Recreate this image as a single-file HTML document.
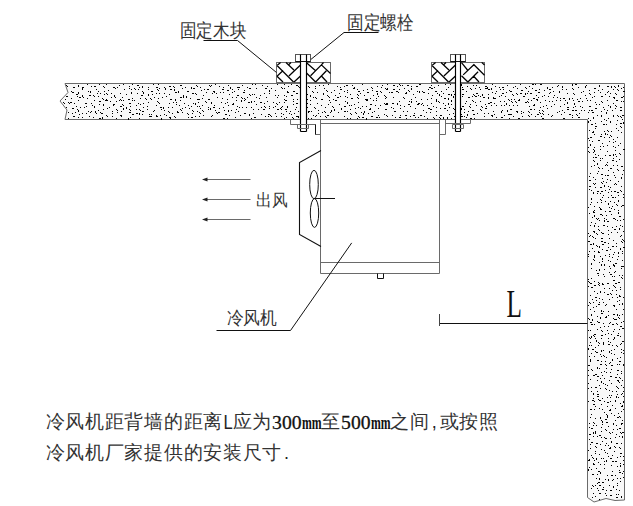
<!DOCTYPE html>
<html><head><meta charset="utf-8"><style>
html,body{margin:0;padding:0;background:#fff;font-family:"Liberation Sans",sans-serif;width:633px;height:506px;overflow:hidden}
svg{position:absolute;left:0;top:0;display:block}
</style></head><body>
<svg width="633" height="506" viewBox="0 0 633 506" shape-rendering="auto">
<path d="M65 83.5 L624.5 83.5 L624.5 500 L615 500.5 L606 498.5 L594 502 L587.5 497.5 L587.5 119.5 L65 119.5 L67 110 L60 101 L68 92.5Z" fill="#f8f8f8" stroke="#6a6a6a" stroke-width="1"/>
<path d="M87 84h1v1h-1zM99 84h1v1h-1zM106 84h1v1h-1zM123 84h1v1h-1zM132 84h1v1h-1zM153 84h1v1h-1zM158 84h1v1h-1zM215 84h1v1h-1zM252 84h1v1h-1zM255 84h1v1h-1zM277 84h1v1h-1zM284 84h1v1h-1zM291 84h1v1h-1zM328 84h1v1h-1zM362 84h1v1h-1zM387 84h1v1h-1zM399 84h1v1h-1zM400 85h1v1h-1zM419 84h2v1h-2zM445 84h1v1h-1zM450 84h1v1h-1zM461 84h1v2h-1zM492 84h1v1h-1zM520 84h1v1h-1zM532 84h2v1h-2zM535 84h1v1h-1zM540 84h2v1h-2zM572 84h1v2h-1zM575 84h2v1h-2zM66 85h1v1h-1zM67 86h1v1h-1zM78 85h1v2h-1zM119 85h1v1h-1zM137 85h2v1h-2zM180 85h2v1h-2zM196 85h1v1h-1zM197 86h1v1h-1zM209 85h1v1h-1zM210 86h1v1h-1zM211 85h1v1h-1zM228 85h1v1h-1zM242 85h1v1h-1zM262 85h1v1h-1zM296 85h2v1h-2zM319 85h1v1h-1zM323 85h1v1h-1zM346 85h2v1h-2zM352 85h1v1h-1zM382 85h1v1h-1zM393 85h2v1h-2zM402 85h1v1h-1zM407 85h2v1h-2zM431 85h1v1h-1zM438 85h1v1h-1zM473 85h1v1h-1zM476 85h1v1h-1zM507 85h1v1h-1zM558 85h1v1h-1zM586 85h1v1h-1zM599 85h1v2h-1zM618 85h1v2h-1zM91 86h1v1h-1zM94 86h2v1h-2zM103 86h1v1h-1zM104 87h1v1h-1zM129 86h1v1h-1zM142 86h1v2h-1zM169 86h2v1h-2zM173 86h1v1h-1zM219 86h1v1h-1zM267 86h1v1h-1zM288 86h1v1h-1zM298 86h1v1h-1zM299 87h1v1h-1zM308 86h1v1h-1zM309 87h1v1h-1zM315 86h1v1h-1zM337 86h1v1h-1zM344 86h1v1h-1zM377 86h1v1h-1zM397 86h1v1h-1zM411 86h1v1h-1zM416 86h2v1h-2zM467 86h1v1h-1zM485 86h2v1h-2zM495 86h1v1h-1zM515 86h1v1h-1zM529 86h1v1h-1zM557 86h1v1h-1zM562 86h1v2h-1zM585 86h1v2h-1zM607 86h2v1h-2zM611 86h1v2h-1zM614 86h1v1h-1zM615 87h1v1h-1zM73 87h1v1h-1zM74 87h1v1h-1zM82 87h2v1h-2zM113 87h2v1h-2zM117 87h1v1h-1zM139 87h1v1h-1zM148 87h1v1h-1zM156 87h2v1h-2zM164 87h1v1h-1zM165 88h1v1h-1zM174 87h1v1h-1zM185 87h1v1h-1zM191 87h1v2h-1zM200 87h1v1h-1zM223 87h1v1h-1zM230 87h1v2h-1zM237 87h1v1h-1zM238 87h2v1h-2zM247 87h1v1h-1zM281 87h1v1h-1zM282 88h1v1h-1zM340 87h1v1h-1zM354 87h1v1h-1zM371 87h1v1h-1zM372 88h1v1h-1zM381 87h1v1h-1zM429 87h2v1h-2zM434 87h1v1h-1zM448 87h1v1h-1zM462 87h1v1h-1zM479 87h1v1h-1zM487 87h1v2h-1zM499 87h1v1h-1zM502 87h2v1h-2zM513 87h1v1h-1zM525 87h1v1h-1zM526 88h1v1h-1zM547 87h1v2h-1zM552 87h1v1h-1zM578 87h1v1h-1zM623 87h1v1h-1zM82 88h1v2h-1zM115 88h1v1h-1zM129 88h1v1h-1zM134 88h1v1h-1zM135 89h1v1h-1zM159 88h1v1h-1zM182 88h1v1h-1zM193 88h1v1h-1zM194 88h1v1h-1zM249 88h2v1h-2zM256 88h1v1h-1zM265 88h2v1h-2zM271 88h1v1h-1zM284 88h1v1h-1zM315 88h1v1h-1zM324 88h1v1h-1zM353 88h2v1h-2zM385 88h1v1h-1zM386 89h1v1h-1zM387 88h1v2h-1zM404 88h1v1h-1zM411 88h1v2h-1zM431 88h2v1h-2zM470 88h1v1h-1zM471 89h1v1h-1zM475 88h1v1h-1zM485 88h2v1h-2zM491 88h1v2h-1zM517 88h1v1h-1zM532 88h1v1h-1zM572 88h1v1h-1zM573 89h1v1h-1zM594 88h2v1h-2zM621 88h1v1h-1zM96 89h1v1h-1zM124 89h1v1h-1zM131 89h1v1h-1zM138 89h1v1h-1zM148 89h1v1h-1zM157 89h1v1h-1zM158 90h1v1h-1zM165 89h1v1h-1zM170 89h2v1h-2zM174 89h1v2h-1zM204 89h1v1h-1zM207 89h2v1h-2zM222 89h2v1h-2zM232 89h1v1h-1zM238 89h1v1h-1zM340 89h2v1h-2zM357 89h1v1h-1zM367 89h1v1h-1zM393 89h2v1h-2zM399 89h1v1h-1zM428 89h1v1h-1zM446 89h1v1h-1zM462 89h2v1h-2zM480 89h1v1h-1zM488 89h2v1h-2zM500 89h1v1h-1zM503 89h1v1h-1zM539 89h1v1h-1zM549 89h2v1h-2zM562 89h1v1h-1zM566 89h1v1h-1zM602 89h1v1h-1zM613 89h1v1h-1zM617 89h1v1h-1zM618 90h1v1h-1zM108 90h1v1h-1zM201 90h1v1h-1zM227 90h2v1h-2zM244 90h1v1h-1zM269 90h1v2h-1zM275 90h1v1h-1zM306 90h1v1h-1zM326 90h1v1h-1zM327 91h1v1h-1zM334 90h1v1h-1zM347 90h1v1h-1zM363 90h1v1h-1zM372 90h1v1h-1zM408 90h1v1h-1zM409 91h1v1h-1zM509 90h1v1h-1zM510 91h1v1h-1zM521 90h1v1h-1zM522 90h1v1h-1zM535 90h2v1h-2zM544 90h1v1h-1zM589 90h1v1h-1zM598 90h1v1h-1zM71 91h1v1h-1zM88 91h1v1h-1zM90 91h1v2h-1zM98 91h1v1h-1zM104 91h1v1h-1zM142 91h1v1h-1zM151 91h2v1h-2zM178 91h1v1h-1zM187 91h2v1h-2zM213 91h2v1h-2zM214 91h1v2h-1zM234 91h1v1h-1zM287 91h1v1h-1zM293 91h1v1h-1zM294 91h1v1h-1zM312 91h1v1h-1zM313 92h1v1h-1zM344 91h1v1h-1zM358 91h2v1h-2zM376 91h2v1h-2zM380 91h1v1h-1zM396 91h2v1h-2zM417 91h1v1h-1zM419 91h1v2h-1zM422 91h1v1h-1zM435 91h2v1h-2zM441 91h1v1h-1zM453 91h1v1h-1zM466 91h1v1h-1zM496 91h1v1h-1zM511 91h1v1h-1zM528 91h1v1h-1zM553 91h1v1h-1zM559 91h1v1h-1zM583 91h1v1h-1zM608 91h1v1h-1zM623 91h2v1h-2zM72 92h2v1h-2zM78 92h1v2h-1zM131 92h1v2h-1zM143 92h1v2h-1zM175 92h2v1h-2zM178 92h1v1h-1zM206 92h1v1h-1zM220 92h1v1h-1zM223 92h1v1h-1zM232 92h1v1h-1zM243 92h2v1h-2zM287 92h2v1h-2zM317 92h1v1h-1zM331 92h1v1h-1zM347 92h1v1h-1zM367 92h2v1h-2zM381 92h1v1h-1zM389 92h1v1h-1zM391 92h2v1h-2zM398 92h1v1h-1zM406 92h1v1h-1zM423 92h2v1h-2zM492 92h1v1h-1zM506 92h1v1h-1zM538 92h2v1h-2zM550 92h1v1h-1zM559 92h1v1h-1zM581 92h1v1h-1zM594 92h1v1h-1zM600 92h1v1h-1zM607 92h1v1h-1zM97 93h1v1h-1zM100 93h1v1h-1zM106 93h1v1h-1zM107 94h1v1h-1zM111 93h1v1h-1zM120 93h1v1h-1zM137 93h1v1h-1zM156 93h1v1h-1zM159 93h1v1h-1zM164 93h1v1h-1zM192 93h2v1h-2zM195 93h1v1h-1zM196 94h1v1h-1zM212 93h1v1h-1zM216 93h1v1h-1zM264 93h1v1h-1zM269 93h1v1h-1zM296 93h2v1h-2zM300 93h2v1h-2zM323 93h1v2h-1zM339 93h1v1h-1zM360 93h1v1h-1zM377 93h1v2h-1zM405 93h2v1h-2zM428 93h1v1h-1zM437 93h1v1h-1zM443 93h1v1h-1zM476 93h2v1h-2zM495 93h1v1h-1zM502 93h2v1h-2zM516 93h1v1h-1zM517 94h1v1h-1zM520 93h2v1h-2zM525 93h1v2h-1zM527 93h1v1h-1zM530 93h2v1h-2zM549 93h1v1h-1zM567 93h1v1h-1zM573 93h1v1h-1zM589 93h1v1h-1zM610 93h1v1h-1zM615 93h1v1h-1zM616 94h1v1h-1zM76 94h2v1h-2zM104 94h1v1h-1zM126 94h1v1h-1zM148 94h1v2h-1zM152 94h1v1h-1zM169 94h1v1h-1zM229 94h1v1h-1zM249 94h1v1h-1zM250 95h1v1h-1zM252 94h1v1h-1zM254 94h1v1h-1zM307 94h1v1h-1zM350 94h1v1h-1zM357 94h1v1h-1zM358 95h1v1h-1zM413 94h1v1h-1zM439 94h1v2h-1zM448 94h2v1h-2zM451 94h1v2h-1zM454 94h1v1h-1zM462 94h2v1h-2zM473 94h1v1h-1zM474 95h1v1h-1zM482 94h1v2h-1zM488 94h1v1h-1zM512 94h1v1h-1zM513 95h1v1h-1zM574 94h1v1h-1zM590 94h1v1h-1zM605 94h1v1h-1zM82 95h1v1h-1zM89 95h2v1h-2zM93 95h1v1h-1zM114 95h1v1h-1zM141 95h2v1h-2zM183 95h1v2h-1zM203 95h1v1h-1zM237 95h2v1h-2zM238 95h1v1h-1zM260 95h1v1h-1zM275 95h1v1h-1zM278 95h1v1h-1zM284 95h1v1h-1zM291 95h2v1h-2zM310 95h1v2h-1zM327 95h1v1h-1zM328 96h1v1h-1zM335 95h1v1h-1zM364 95h1v1h-1zM373 95h1v1h-1zM384 95h1v1h-1zM385 96h1v1h-1zM432 95h1v1h-1zM478 95h1v1h-1zM501 95h1v1h-1zM536 95h1v1h-1zM544 95h1v1h-1zM554 95h1v1h-1zM585 95h1v1h-1zM66 96h2v1h-2zM77 96h1v1h-1zM82 96h1v1h-1zM83 97h1v1h-1zM94 96h1v1h-1zM98 96h1v1h-1zM114 96h1v1h-1zM115 97h1v1h-1zM166 96h1v1h-1zM186 96h1v2h-1zM286 96h1v1h-1zM340 96h1v1h-1zM345 96h1v1h-1zM378 96h1v1h-1zM441 96h1v1h-1zM453 96h1v2h-1zM462 96h1v1h-1zM472 96h1v1h-1zM475 96h2v1h-2zM480 96h1v1h-1zM499 96h1v1h-1zM505 96h1v1h-1zM523 96h2v1h-2zM542 96h1v1h-1zM548 96h1v1h-1zM594 96h1v1h-1zM601 96h1v1h-1zM602 96h1v1h-1zM609 96h1v1h-1zM623 96h1v1h-1zM79 97h2v1h-2zM111 97h1v1h-1zM122 97h1v1h-1zM154 97h1v1h-1zM162 97h1v1h-1zM180 97h2v1h-2zM183 97h1v1h-1zM217 97h1v1h-1zM232 97h1v1h-1zM236 97h1v1h-1zM241 97h1v1h-1zM242 98h1v1h-1zM247 97h1v1h-1zM256 97h1v1h-1zM266 97h1v1h-1zM277 97h1v1h-1zM313 97h1v1h-1zM315 97h1v1h-1zM316 98h1v1h-1zM329 97h1v1h-1zM337 97h2v1h-2zM347 97h1v1h-1zM357 97h1v1h-1zM386 97h1v1h-1zM393 97h1v1h-1zM403 97h1v1h-1zM404 98h1v1h-1zM415 97h1v1h-1zM468 97h2v1h-2zM483 97h2v1h-2zM488 97h1v2h-1zM493 97h1v2h-1zM538 97h1v1h-1zM553 97h1v1h-1zM557 97h1v1h-1zM592 97h1v1h-1zM613 97h1v1h-1zM614 97h1v2h-1zM621 97h2v1h-2zM71 98h1v1h-1zM87 98h1v1h-1zM102 98h1v1h-1zM103 99h1v1h-1zM132 98h1v1h-1zM140 98h1v1h-1zM145 98h1v1h-1zM150 98h1v1h-1zM151 99h1v1h-1zM158 98h1v1h-1zM190 98h1v1h-1zM202 98h1v1h-1zM222 98h1v1h-1zM244 98h1v1h-1zM245 99h1v1h-1zM259 98h1v1h-1zM351 98h2v1h-2zM358 98h1v1h-1zM370 98h1v1h-1zM376 98h1v1h-1zM385 98h1v1h-1zM431 98h1v1h-1zM444 98h2v1h-2zM448 98h1v2h-1zM494 98h2v1h-2zM533 98h2v1h-2zM560 98h1v1h-1zM563 98h2v1h-2zM569 98h1v2h-1zM572 98h1v1h-1zM580 98h1v1h-1zM586 98h1v1h-1zM65 99h1v1h-1zM106 99h1v1h-1zM120 99h1v1h-1zM121 100h1v1h-1zM128 99h2v1h-2zM146 99h1v1h-1zM170 99h2v1h-2zM175 99h1v2h-1zM197 99h1v1h-1zM198 99h2v1h-2zM208 99h2v1h-2zM227 99h1v1h-1zM284 99h1v1h-1zM285 100h1v1h-1zM293 99h1v1h-1zM297 99h1v1h-1zM300 99h2v1h-2zM307 99h1v1h-1zM321 99h1v1h-1zM322 99h1v1h-1zM333 99h1v1h-1zM365 99h2v1h-2zM367 99h1v1h-1zM411 99h1v1h-1zM421 99h1v1h-1zM427 99h1v1h-1zM436 99h1v2h-1zM508 99h1v1h-1zM509 100h1v1h-1zM511 99h1v1h-1zM514 99h1v1h-1zM519 99h1v1h-1zM528 99h1v1h-1zM536 99h2v1h-2zM577 99h1v1h-1zM78 100h1v1h-1zM94 100h1v1h-1zM105 100h1v1h-1zM106 100h2v1h-2zM119 100h1v1h-1zM123 100h1v1h-1zM132 100h1v1h-1zM134 100h1v1h-1zM180 100h1v1h-1zM236 100h1v1h-1zM241 100h1v2h-1zM244 100h1v1h-1zM286 100h1v1h-1zM310 100h1v1h-1zM329 100h1v1h-1zM335 100h2v1h-2zM366 100h2v1h-2zM373 100h1v1h-1zM376 100h1v1h-1zM451 100h1v2h-1zM472 100h1v1h-1zM473 101h1v1h-1zM518 100h2v1h-2zM531 100h1v1h-1zM537 100h1v1h-1zM545 100h1v1h-1zM556 100h1v1h-1zM560 100h1v1h-1zM565 100h1v1h-1zM573 100h1v1h-1zM587 100h1v1h-1zM590 100h1v1h-1zM607 100h1v1h-1zM616 100h2v1h-2zM99 101h2v1h-2zM110 101h1v1h-1zM116 101h1v1h-1zM157 101h1v1h-1zM205 101h1v1h-1zM251 101h1v2h-1zM254 101h1v1h-1zM267 101h1v1h-1zM293 101h1v1h-1zM345 101h1v1h-1zM399 101h1v1h-1zM409 101h1v1h-1zM411 101h1v2h-1zM416 101h1v1h-1zM436 101h1v1h-1zM438 101h1v1h-1zM439 102h1v1h-1zM466 101h1v1h-1zM480 101h1v1h-1zM500 101h1v1h-1zM504 101h1v1h-1zM511 101h1v1h-1zM512 102h1v1h-1zM515 101h1v1h-1zM516 102h1v1h-1zM527 101h1v1h-1zM528 102h1v1h-1zM549 101h1v1h-1zM552 101h1v1h-1zM578 101h2v1h-2zM582 101h1v1h-1zM601 101h1v1h-1zM621 101h1v1h-1zM623 101h1v1h-1zM63 102h1v1h-1zM64 103h1v1h-1zM68 102h1v1h-1zM69 103h1v1h-1zM70 102h2v1h-2zM148 102h1v1h-1zM158 102h1v1h-1zM159 103h1v1h-1zM173 102h1v1h-1zM176 102h1v1h-1zM198 102h1v1h-1zM206 102h1v1h-1zM211 102h1v2h-1zM221 102h1v1h-1zM227 102h1v1h-1zM248 102h2v1h-2zM260 102h2v1h-2zM273 102h1v1h-1zM279 102h1v1h-1zM284 102h1v1h-1zM330 102h1v1h-1zM347 102h1v2h-1zM358 102h1v1h-1zM475 102h1v1h-1zM490 102h2v1h-2zM525 102h2v1h-2zM540 102h1v1h-1zM567 102h1v2h-1zM595 102h1v1h-1zM602 102h1v1h-1zM74 103h1v1h-1zM85 103h1v1h-1zM86 103h1v1h-1zM91 103h1v1h-1zM129 103h2v1h-2zM138 103h1v1h-1zM143 103h1v1h-1zM169 103h1v1h-1zM184 103h1v1h-1zM193 103h1v1h-1zM195 103h1v2h-1zM225 103h1v1h-1zM233 103h1v2h-1zM264 103h1v1h-1zM276 103h1v1h-1zM277 104h1v1h-1zM296 103h2v1h-2zM307 103h1v1h-1zM317 103h1v1h-1zM384 103h1v1h-1zM386 103h2v1h-2zM392 103h2v1h-2zM397 103h1v1h-1zM418 103h2v1h-2zM422 103h1v1h-1zM431 103h1v1h-1zM443 103h1v1h-1zM448 103h1v2h-1zM465 103h1v1h-1zM488 103h2v1h-2zM494 103h1v1h-1zM506 103h1v2h-1zM574 103h1v2h-1zM613 103h1v1h-1zM99 104h1v1h-1zM103 104h1v2h-1zM113 104h1v2h-1zM114 104h1v1h-1zM122 104h1v1h-1zM123 105h1v1h-1zM140 104h1v1h-1zM176 104h1v1h-1zM232 104h1v1h-1zM256 104h1v1h-1zM293 104h1v1h-1zM310 104h1v1h-1zM328 104h1v1h-1zM339 104h1v1h-1zM354 104h1v1h-1zM370 104h2v1h-2zM385 104h1v1h-1zM386 104h2v1h-2zM397 104h1v1h-1zM408 104h2v1h-2zM417 104h2v1h-2zM421 104h1v1h-1zM451 104h1v1h-1zM470 104h1v1h-1zM485 104h1v1h-1zM534 104h1v1h-1zM554 104h1v1h-1zM564 104h1v1h-1zM596 104h1v1h-1zM599 104h1v1h-1zM92 105h1v1h-1zM136 105h1v1h-1zM156 105h1v1h-1zM179 105h1v1h-1zM188 105h1v1h-1zM202 105h1v1h-1zM214 105h1v1h-1zM228 105h1v1h-1zM321 105h1v1h-1zM349 105h1v1h-1zM351 105h1v1h-1zM375 105h1v1h-1zM380 105h1v1h-1zM400 105h1v1h-1zM423 105h1v1h-1zM427 105h1v1h-1zM445 105h1v1h-1zM476 105h1v1h-1zM491 105h1v1h-1zM496 105h1v1h-1zM501 105h1v1h-1zM504 105h1v1h-1zM509 105h1v1h-1zM513 105h1v1h-1zM517 105h1v1h-1zM533 105h2v1h-2zM546 105h1v1h-1zM608 105h1v1h-1zM615 105h1v1h-1zM616 106h1v1h-1zM76 106h1v1h-1zM86 106h1v1h-1zM94 106h1v2h-1zM120 106h2v1h-2zM130 106h1v1h-1zM147 106h1v1h-1zM191 106h1v1h-1zM197 106h1v1h-1zM199 106h1v1h-1zM237 106h1v1h-1zM264 106h1v1h-1zM265 107h1v1h-1zM269 106h1v1h-1zM275 106h1v1h-1zM282 106h1v1h-1zM287 106h1v2h-1zM306 106h1v1h-1zM307 107h1v1h-1zM332 106h1v1h-1zM333 107h1v1h-1zM344 106h2v1h-2zM362 106h1v1h-1zM366 106h1v1h-1zM404 106h1v1h-1zM410 106h1v1h-1zM433 106h1v1h-1zM462 106h2v1h-2zM469 106h1v1h-1zM470 107h1v1h-1zM481 106h1v1h-1zM482 107h1v1h-1zM486 106h1v1h-1zM529 106h1v1h-1zM543 106h1v1h-1zM551 106h1v1h-1zM560 106h1v1h-1zM575 106h1v1h-1zM580 106h1v1h-1zM589 106h2v1h-2zM610 106h1v2h-1zM66 107h1v1h-1zM80 107h1v1h-1zM84 107h1v1h-1zM109 107h1v1h-1zM126 107h1v2h-1zM143 107h1v1h-1zM160 107h2v1h-2zM163 107h1v2h-1zM168 107h1v1h-1zM172 107h1v1h-1zM185 107h1v1h-1zM208 107h1v1h-1zM213 107h2v1h-2zM223 107h1v1h-1zM239 107h1v1h-1zM242 107h1v1h-1zM246 107h1v1h-1zM251 107h1v1h-1zM261 107h1v1h-1zM273 107h1v1h-1zM281 107h1v1h-1zM296 107h1v1h-1zM300 107h1v1h-1zM314 107h1v1h-1zM315 108h1v1h-1zM325 107h1v1h-1zM358 107h1v1h-1zM391 107h1v1h-1zM436 107h1v1h-1zM449 107h1v1h-1zM540 107h1v1h-1zM567 107h2v1h-2zM573 107h1v1h-1zM582 107h1v1h-1zM603 107h1v1h-1zM620 107h2v1h-2zM72 108h2v1h-2zM107 108h1v1h-1zM123 108h1v2h-1zM182 108h1v1h-1zM189 108h1v1h-1zM200 108h1v1h-1zM210 108h1v2h-1zM219 108h1v1h-1zM269 108h1v1h-1zM280 108h1v1h-1zM281 109h1v1h-1zM341 108h1v2h-1zM355 108h1v1h-1zM360 108h1v1h-1zM370 108h1v1h-1zM378 108h1v1h-1zM393 108h1v1h-1zM400 108h1v1h-1zM415 108h1v1h-1zM428 108h2v1h-2zM440 108h1v1h-1zM444 108h2v1h-2zM453 108h1v1h-1zM454 109h1v1h-1zM461 108h1v2h-1zM485 108h1v1h-1zM486 108h1v1h-1zM547 108h1v1h-1zM595 108h2v1h-2zM615 108h1v1h-1zM77 109h1v1h-1zM103 109h1v1h-1zM116 109h1v1h-1zM117 110h1v1h-1zM129 109h1v1h-1zM130 110h1v1h-1zM136 109h1v1h-1zM139 109h1v1h-1zM140 110h1v1h-1zM147 109h1v1h-1zM161 109h1v1h-1zM180 109h1v1h-1zM181 110h1v1h-1zM208 109h1v1h-1zM236 109h1v1h-1zM253 109h1v1h-1zM258 109h1v1h-1zM263 109h2v1h-2zM277 109h2v1h-2zM285 109h2v1h-2zM295 109h1v1h-1zM334 109h1v2h-1zM350 109h1v1h-1zM369 109h2v1h-2zM385 109h2v1h-2zM430 109h2v1h-2zM464 109h1v1h-1zM480 109h1v1h-1zM481 110h1v1h-1zM510 109h2v1h-2zM530 109h2v1h-2zM534 109h1v1h-1zM567 109h2v1h-2zM604 109h1v1h-1zM78 110h1v2h-1zM98 110h1v1h-1zM154 110h1v1h-1zM164 110h1v1h-1zM192 110h1v1h-1zM193 111h1v1h-1zM202 110h1v1h-1zM203 111h1v1h-1zM215 110h1v1h-1zM224 110h1v1h-1zM228 110h1v2h-1zM231 110h1v1h-1zM318 110h1v1h-1zM331 110h1v2h-1zM423 110h1v1h-1zM447 110h1v1h-1zM472 110h2v1h-2zM502 110h1v1h-1zM507 110h1v2h-1zM539 110h1v1h-1zM542 110h1v1h-1zM543 111h1v1h-1zM562 110h1v1h-1zM572 110h2v1h-2zM575 110h2v1h-2zM581 110h1v1h-1zM584 110h1v1h-1zM589 110h1v1h-1zM591 110h2v1h-2zM607 110h1v1h-1zM612 110h1v1h-1zM620 110h2v1h-2zM88 111h1v1h-1zM91 111h1v1h-1zM95 111h1v2h-1zM112 111h1v1h-1zM121 111h1v1h-1zM142 111h2v1h-2zM153 111h1v1h-1zM168 111h1v1h-1zM169 112h1v1h-1zM177 111h1v2h-1zM197 111h1v1h-1zM238 111h1v1h-1zM286 111h1v1h-1zM290 111h1v1h-1zM298 111h1v1h-1zM308 111h2v1h-2zM311 111h1v1h-1zM324 111h1v1h-1zM325 112h1v1h-1zM344 111h2v1h-2zM347 111h1v1h-1zM364 111h1v2h-1zM374 111h1v1h-1zM394 111h2v1h-2zM403 111h1v1h-1zM407 111h1v1h-1zM436 111h1v1h-1zM468 111h1v1h-1zM493 111h1v1h-1zM501 111h1v1h-1zM516 111h2v1h-2zM521 111h1v1h-1zM528 111h1v1h-1zM529 112h1v1h-1zM559 111h1v1h-1zM601 111h1v1h-1zM68 112h1v1h-1zM75 112h1v1h-1zM90 112h1v1h-1zM100 112h1v1h-1zM101 113h1v1h-1zM117 112h1v1h-1zM129 112h2v1h-2zM178 112h1v1h-1zM182 112h1v1h-1zM199 112h1v1h-1zM200 113h1v1h-1zM216 112h1v1h-1zM217 113h1v1h-1zM218 112h2v1h-2zM235 112h1v1h-1zM308 112h1v1h-1zM322 112h1v1h-1zM330 112h1v1h-1zM338 112h1v1h-1zM355 112h1v1h-1zM356 113h1v1h-1zM361 112h1v1h-1zM372 112h1v1h-1zM426 112h1v1h-1zM430 112h1v1h-1zM464 112h1v1h-1zM501 112h1v1h-1zM517 112h1v1h-1zM523 112h1v1h-1zM539 112h1v1h-1zM540 113h1v1h-1zM557 112h1v1h-1zM564 112h1v1h-1zM588 112h1v1h-1zM592 112h2v1h-2zM606 112h1v2h-1zM72 113h1v1h-1zM82 113h1v1h-1zM86 113h1v1h-1zM96 113h1v1h-1zM102 113h1v1h-1zM112 113h1v1h-1zM136 113h2v1h-2zM139 113h1v2h-1zM172 113h1v1h-1zM187 113h1v1h-1zM188 114h1v1h-1zM192 113h1v1h-1zM244 113h2v1h-2zM253 113h1v1h-1zM275 113h1v1h-1zM281 113h1v1h-1zM289 113h1v1h-1zM294 113h1v1h-1zM318 113h1v1h-1zM350 113h1v1h-1zM351 114h1v1h-1zM363 113h1v2h-1zM368 113h1v1h-1zM414 113h1v1h-1zM453 113h1v1h-1zM477 113h1v1h-1zM484 113h1v1h-1zM488 113h1v1h-1zM521 113h1v1h-1zM542 113h1v1h-1zM543 114h1v1h-1zM579 113h1v1h-1zM79 114h1v1h-1zM132 114h2v1h-2zM142 114h1v1h-1zM149 114h1v1h-1zM151 114h1v1h-1zM164 114h1v1h-1zM225 114h2v1h-2zM249 114h1v2h-1zM261 114h1v1h-1zM268 114h2v1h-2zM283 114h1v1h-1zM291 114h1v1h-1zM384 114h1v1h-1zM449 114h1v1h-1zM461 114h1v1h-1zM467 114h1v2h-1zM473 114h2v1h-2zM494 114h1v1h-1zM508 114h2v1h-2zM510 114h2v1h-2zM531 114h1v1h-1zM537 114h2v1h-2zM548 114h1v1h-1zM561 114h1v1h-1zM569 114h2v1h-2zM576 114h1v1h-1zM577 115h1v1h-1zM106 115h1v1h-1zM107 116h1v1h-1zM120 115h2v1h-2zM156 115h1v1h-1zM160 115h1v1h-1zM166 115h1v1h-1zM203 115h1v1h-1zM212 115h1v1h-1zM229 115h1v1h-1zM240 115h1v1h-1zM270 115h1v1h-1zM313 115h1v1h-1zM316 115h1v1h-1zM327 115h2v1h-2zM378 115h1v1h-1zM386 115h1v1h-1zM392 115h1v1h-1zM400 115h1v1h-1zM405 115h2v1h-2zM413 115h2v1h-2zM420 115h2v1h-2zM436 115h1v1h-1zM440 115h2v1h-2zM491 115h2v1h-2zM504 115h1v1h-1zM528 115h1v1h-1zM529 116h1v1h-1zM552 115h1v1h-1zM572 115h1v1h-1zM597 115h1v1h-1zM601 115h1v1h-1zM613 115h1v1h-1zM617 115h1v1h-1zM618 116h1v1h-1zM622 115h2v1h-2zM73 116h1v1h-1zM74 116h1v1h-1zM89 116h1v1h-1zM112 116h1v1h-1zM121 116h1v1h-1zM149 116h1v1h-1zM150 116h2v1h-2zM156 116h2v1h-2zM174 116h1v1h-1zM175 117h1v1h-1zM195 116h1v1h-1zM199 116h1v1h-1zM211 116h1v1h-1zM265 116h1v1h-1zM268 116h1v1h-1zM271 116h1v1h-1zM276 116h1v1h-1zM281 116h1v1h-1zM296 116h2v1h-2zM298 116h1v2h-1zM315 116h1v1h-1zM320 116h1v1h-1zM325 116h1v1h-1zM333 116h1v1h-1zM344 116h1v1h-1zM358 116h1v1h-1zM359 117h1v1h-1zM371 116h2v1h-2zM387 116h1v1h-1zM410 116h1v1h-1zM424 116h1v1h-1zM454 116h2v1h-2zM461 116h2v1h-2zM464 116h1v1h-1zM484 116h1v1h-1zM492 116h1v1h-1zM513 116h1v1h-1zM522 116h1v1h-1zM535 116h1v1h-1zM541 116h1v1h-1zM551 116h1v1h-1zM601 116h1v1h-1zM613 116h1v1h-1zM620 116h1v1h-1zM621 117h1v1h-1zM78 117h1v1h-1zM82 117h1v1h-1zM93 117h1v1h-1zM102 117h1v2h-1zM130 117h1v1h-1zM169 117h1v1h-1zM170 118h1v1h-1zM170 117h1v1h-1zM188 117h1v1h-1zM191 117h2v1h-2zM235 117h1v1h-1zM254 117h2v1h-2zM286 117h1v1h-1zM292 117h1v1h-1zM293 118h1v1h-1zM326 117h1v1h-1zM362 117h2v1h-2zM376 117h2v1h-2zM379 117h1v1h-1zM395 117h1v1h-1zM399 117h2v1h-2zM415 117h1v1h-1zM418 117h1v1h-1zM433 117h1v1h-1zM434 118h1v1h-1zM439 117h1v1h-1zM440 118h1v1h-1zM443 117h1v2h-1zM447 117h1v2h-1zM466 117h1v1h-1zM496 117h1v1h-1zM501 117h2v1h-2zM572 117h1v1h-1zM578 117h2v1h-2zM593 117h1v2h-1zM68 118h1v1h-1zM99 118h2v1h-2zM116 118h1v1h-1zM128 118h1v2h-1zM139 118h1v1h-1zM161 118h1v2h-1zM223 118h2v1h-2zM227 118h1v1h-1zM251 118h1v1h-1zM284 118h1v1h-1zM308 118h1v1h-1zM311 118h1v1h-1zM347 118h1v1h-1zM350 118h1v1h-1zM357 118h1v1h-1zM366 118h1v2h-1zM406 118h1v1h-1zM427 118h1v1h-1zM451 118h1v1h-1zM470 118h2v1h-2zM474 118h1v1h-1zM509 118h1v1h-1zM518 118h2v1h-2zM542 118h2v1h-2zM563 118h2v1h-2zM588 118h1v1h-1zM608 118h1v1h-1zM604 119h1v1h-1zM622 119h1v1h-1zM590 120h1v1h-1zM606 120h1v1h-1zM617 120h1v1h-1zM588 121h1v2h-1zM601 121h1v1h-1zM610 121h1v2h-1zM623 122h1v2h-1zM595 123h1v1h-1zM620 123h2v1h-2zM591 124h2v1h-2zM603 124h2v1h-2zM606 124h1v1h-1zM616 124h1v1h-1zM595 126h2v1h-2zM620 126h1v1h-1zM621 127h1v1h-1zM595 128h1v1h-1zM616 128h1v1h-1zM589 130h1v1h-1zM607 130h1v1h-1zM608 131h1v1h-1zM618 130h1v1h-1zM593 131h1v1h-1zM604 131h1v1h-1zM611 131h1v1h-1zM592 132h2v1h-2zM621 132h1v1h-1zM605 133h1v2h-1zM594 134h1v1h-1zM601 134h1v1h-1zM607 134h1v1h-1zM610 135h1v1h-1zM611 136h1v1h-1zM600 136h2v1h-2zM590 137h2v1h-2zM604 137h1v1h-1zM609 137h1v1h-1zM617 137h1v1h-1zM588 138h1v1h-1zM613 139h1v1h-1zM589 140h1v1h-1zM598 140h2v1h-2zM592 141h1v1h-1zM609 141h1v1h-1zM615 141h1v1h-1zM613 142h1v1h-1zM602 143h1v1h-1zM620 143h1v1h-1zM590 144h1v2h-1zM607 145h1v1h-1zM618 145h1v1h-1zM600 146h1v1h-1zM603 146h1v1h-1zM613 146h1v1h-1zM588 147h1v1h-1zM594 147h1v1h-1zM615 147h1v1h-1zM593 149h1v1h-1zM594 150h1v1h-1zM600 149h1v1h-1zM623 149h2v1h-2zM615 150h1v1h-1zM588 151h1v1h-1zM589 152h1v1h-1zM594 151h1v1h-1zM607 151h1v1h-1zM593 152h1v1h-1zM619 153h1v1h-1zM620 154h1v1h-1zM595 154h1v1h-1zM613 154h1v2h-1zM615 154h1v1h-1zM598 155h1v1h-1zM605 155h1v1h-1zM609 155h2v1h-2zM616 156h1v1h-1zM593 157h1v1h-1zM595 157h2v1h-2zM600 158h1v1h-1zM602 158h1v1h-1zM613 158h1v1h-1zM619 159h1v1h-1zM593 160h1v1h-1zM594 161h1v1h-1zM600 160h1v1h-1zM612 160h2v1h-2zM616 161h1v1h-1zM607 162h1v1h-1zM597 163h1v2h-1zM606 164h1v1h-1zM607 165h1v1h-1zM594 165h1v1h-1zM605 165h1v1h-1zM613 165h1v1h-1zM617 165h1v1h-1zM591 166h1v1h-1zM621 166h2v1h-2zM598 167h1v1h-1zM599 168h1v1h-1zM602 168h1v1h-1zM610 168h2v1h-2zM617 169h1v1h-1zM618 170h1v1h-1zM608 170h1v1h-1zM623 170h1v1h-1zM598 171h1v1h-1zM613 172h1v1h-1zM590 173h1v1h-1zM597 173h1v1h-1zM601 174h2v1h-2zM622 174h1v1h-1zM605 175h1v1h-1zM607 175h2v1h-2zM614 175h1v1h-1zM589 176h1v1h-1zM593 177h1v1h-1zM615 177h1v1h-1zM621 177h1v2h-1zM602 178h1v1h-1zM595 179h1v1h-1zM607 179h1v1h-1zM589 180h2v1h-2zM610 180h1v1h-1zM603 181h1v1h-1zM618 181h1v1h-1zM601 182h1v1h-1zM602 183h1v1h-1zM606 182h1v1h-1zM593 183h1v1h-1zM594 184h1v1h-1zM595 183h1v1h-1zM615 183h1v1h-1zM616 184h1v1h-1zM614 184h1v1h-1zM604 185h1v2h-1zM589 186h2v1h-2zM590 186h1v1h-1zM608 186h1v1h-1zM621 186h1v1h-1zM595 187h1v1h-1zM600 187h2v1h-2zM610 187h1v1h-1zM589 189h1v1h-1zM609 189h1v1h-1zM591 190h1v1h-1zM605 190h1v1h-1zM620 190h1v1h-1zM621 191h1v1h-1zM597 191h2v1h-2zM601 191h2v1h-2zM611 191h1v1h-1zM614 191h2v1h-2zM593 192h1v2h-1zM608 192h1v1h-1zM617 192h2v1h-2zM597 193h1v1h-1zM600 193h1v1h-1zM623 194h1v1h-1zM603 195h1v1h-1zM611 195h1v1h-1zM618 195h1v1h-1zM602 197h1v1h-1zM608 197h1v1h-1zM612 197h2v1h-2zM615 197h1v1h-1zM623 197h1v1h-1zM591 198h1v2h-1zM600 199h1v1h-1zM601 200h1v1h-1zM618 200h1v2h-1zM605 201h1v1h-1zM610 201h1v1h-1zM591 202h1v1h-1zM597 202h1v1h-1zM601 202h1v1h-1zM614 202h1v1h-1zM608 203h1v2h-1zM590 204h1v1h-1zM616 204h1v1h-1zM617 205h1v1h-1zM622 205h2v1h-2zM594 206h1v1h-1zM612 206h1v1h-1zM621 206h1v1h-1zM588 207h1v1h-1zM599 207h1v1h-1zM600 208h1v1h-1zM609 207h1v1h-1zM611 208h1v1h-1zM600 209h2v1h-2zM614 209h1v1h-1zM594 210h1v1h-1zM618 210h1v1h-1zM593 211h1v1h-1zM605 211h1v1h-1zM609 211h2v1h-2zM593 212h2v1h-2zM618 212h1v2h-1zM589 213h1v1h-1zM600 214h2v1h-2zM611 214h1v1h-1zM594 215h1v2h-1zM602 215h1v1h-1zM606 215h1v1h-1zM619 216h2v1h-2zM592 217h1v1h-1zM596 218h1v1h-1zM597 219h1v1h-1zM598 218h1v1h-1zM604 218h1v1h-1zM613 218h2v1h-2zM606 219h1v1h-1zM615 219h1v1h-1zM623 219h1v1h-1zM599 220h1v1h-1zM604 220h1v2h-1zM617 220h1v1h-1zM620 220h1v1h-1zM607 221h2v1h-2zM591 222h1v1h-1zM595 223h1v1h-1zM590 225h1v1h-1zM594 225h1v2h-1zM603 225h2v1h-2zM620 225h1v1h-1zM598 226h1v1h-1zM607 226h1v1h-1zM616 226h1v1h-1zM622 226h1v1h-1zM612 227h1v1h-1zM619 228h1v2h-1zM598 229h1v1h-1zM599 230h1v1h-1zM614 229h2v1h-2zM608 230h1v1h-1zM593 231h2v1h-2zM594 231h1v2h-1zM623 231h1v1h-1zM601 232h1v1h-1zM611 232h1v1h-1zM617 232h1v1h-1zM588 233h1v1h-1zM596 233h1v1h-1zM597 234h1v1h-1zM602 233h2v1h-2zM608 234h1v1h-1zM590 235h1v1h-1zM621 235h1v1h-1zM589 236h1v1h-1zM592 236h1v1h-1zM593 237h1v1h-1zM620 236h1v1h-1zM595 238h1v1h-1zM601 238h2v1h-2zM609 238h1v1h-1zM622 239h1v1h-1zM613 240h1v1h-1zM623 240h1v1h-1zM624 241h1v1h-1zM588 241h2v1h-2zM601 241h2v1h-2zM621 241h1v1h-1zM622 242h1v1h-1zM604 242h2v1h-2zM593 243h1v2h-1zM608 243h1v1h-1zM616 243h1v1h-1zM590 244h2v1h-2zM602 244h2v1h-2zM596 245h1v1h-1zM597 246h1v1h-1zM599 246h1v2h-1zM612 246h2v1h-2zM616 246h1v1h-1zM608 247h1v1h-1zM623 247h2v1h-2zM592 248h1v1h-1zM620 248h1v2h-1zM602 249h1v1h-1zM610 249h1v1h-1zM606 250h2v1h-2zM589 251h1v1h-1zM594 251h1v1h-1zM598 251h1v1h-1zM622 251h1v1h-1zM598 252h2v1h-2zM614 252h1v1h-1zM618 252h1v2h-1zM622 253h1v1h-1zM588 254h1v1h-1zM609 254h1v1h-1zM613 254h1v1h-1zM594 255h1v2h-1zM605 255h1v1h-1zM588 256h1v1h-1zM600 256h1v1h-1zM609 256h1v1h-1zM618 256h1v1h-1zM594 257h1v1h-1zM612 257h1v1h-1zM602 258h1v2h-1zM593 259h1v1h-1zM594 260h1v1h-1zM617 259h1v1h-1zM594 260h1v1h-1zM608 260h1v1h-1zM622 260h1v1h-1zM602 261h1v1h-1zM610 261h1v1h-1zM599 262h1v1h-1zM591 263h1v1h-1zM615 263h2v1h-2zM591 264h1v1h-1zM601 264h1v2h-1zM604 264h1v2h-1zM613 264h1v2h-1zM614 265h1v2h-1zM609 266h1v1h-1zM621 266h1v1h-1zM622 266h2v1h-2zM591 268h1v1h-1zM610 268h1v1h-1zM621 268h1v1h-1zM599 269h1v2h-1zM604 269h1v1h-1zM596 270h1v1h-1zM615 271h1v1h-1zM609 272h1v1h-1zM614 272h1v1h-1zM597 273h2v1h-2zM603 274h1v1h-1zM610 274h2v1h-2zM598 275h1v1h-1zM619 275h1v1h-1zM622 275h1v1h-1zM604 276h1v1h-1zM612 276h1v1h-1zM614 276h1v1h-1zM621 277h1v1h-1zM622 278h1v1h-1zM591 278h1v1h-1zM588 279h1v1h-1zM613 280h2v1h-2zM588 281h1v1h-1zM589 282h1v1h-1zM594 281h1v1h-1zM598 282h1v1h-1zM599 283h1v1h-1zM618 282h2v1h-2zM590 283h2v1h-2zM602 283h1v1h-1zM607 283h2v1h-2zM615 283h2v1h-2zM598 284h1v1h-1zM599 285h1v1h-1zM602 284h2v1h-2zM594 285h2v1h-2zM613 285h1v1h-1zM588 286h1v1h-1zM614 286h1v1h-1zM615 287h1v1h-1zM591 287h2v1h-2zM620 287h1v1h-1zM604 288h1v1h-1zM609 288h1v1h-1zM620 289h1v1h-1zM612 290h1v1h-1zM616 290h1v1h-1zM594 291h1v1h-1zM600 291h1v1h-1zM600 292h1v1h-1zM604 292h1v1h-1zM597 293h1v1h-1zM610 293h1v1h-1zM611 294h1v1h-1zM607 294h2v1h-2zM616 294h1v1h-1zM590 295h1v1h-1zM619 295h1v1h-1zM619 296h2v1h-2zM595 297h2v1h-2zM612 297h1v1h-1zM617 297h1v1h-1zM623 297h1v1h-1zM599 298h1v1h-1zM592 299h1v1h-1zM602 299h1v1h-1zM609 299h1v1h-1zM596 300h1v1h-1zM619 300h1v1h-1zM617 301h1v1h-1zM589 302h1v1h-1zM590 303h1v1h-1zM593 302h1v1h-1zM599 302h1v1h-1zM603 302h1v1h-1zM622 303h1v2h-1zM598 304h2v1h-2zM606 304h1v1h-1zM619 304h1v1h-1zM588 305h1v1h-1zM605 305h1v1h-1zM613 305h2v1h-2zM596 306h1v1h-1zM614 306h1v1h-1zM593 307h1v1h-1zM590 309h1v1h-1zM616 309h1v1h-1zM623 309h1v1h-1zM601 310h1v2h-1zM594 311h1v1h-1zM603 311h1v1h-1zM608 311h1v1h-1zM601 313h1v1h-1zM602 313h1v1h-1zM591 314h1v2h-1zM613 314h2v1h-2zM617 314h1v2h-1zM622 314h1v1h-1zM608 315h1v1h-1zM619 315h1v1h-1zM597 316h1v1h-1zM606 316h1v1h-1zM600 317h1v2h-1zM605 317h2v1h-2zM618 317h1v1h-1zM619 318h1v1h-1zM588 318h1v1h-1zM589 319h1v1h-1zM613 318h1v1h-1zM614 319h1v1h-1zM592 319h1v2h-1zM615 319h2v1h-2zM597 321h1v1h-1zM598 322h1v1h-1zM623 321h1v1h-1zM590 322h2v1h-2zM598 322h2v1h-2zM610 322h1v1h-1zM621 322h1v1h-1zM603 323h1v1h-1zM609 323h1v1h-1zM616 323h1v1h-1zM591 324h2v1h-2zM594 324h1v1h-1zM612 324h2v1h-2zM617 324h1v1h-1zM604 326h1v1h-1zM608 326h1v1h-1zM620 326h2v1h-2zM600 327h1v1h-1zM622 328h2v1h-2zM597 329h1v1h-1zM614 329h1v1h-1zM619 329h1v1h-1zM588 330h1v1h-1zM590 330h1v1h-1zM601 330h1v1h-1zM607 330h1v1h-1zM602 331h1v1h-1zM613 331h1v1h-1zM608 333h1v1h-1zM618 333h1v1h-1zM594 334h2v1h-2zM605 334h1v1h-1zM611 334h1v1h-1zM593 335h1v1h-1zM594 336h1v1h-1zM601 335h2v1h-2zM617 335h2v1h-2zM591 336h1v2h-1zM620 336h1v1h-1zM589 337h1v1h-1zM590 338h1v1h-1zM614 337h1v2h-1zM595 338h1v1h-1zM601 338h1v1h-1zM608 338h1v1h-1zM613 339h1v1h-1zM596 340h1v2h-1zM608 341h1v1h-1zM622 341h2v1h-2zM590 342h1v1h-1zM598 342h1v1h-1zM599 343h1v1h-1zM603 342h1v2h-1zM610 342h1v1h-1zM621 343h1v1h-1zM603 344h1v1h-1zM608 344h2v1h-2zM620 344h1v1h-1zM589 345h1v1h-1zM591 345h1v1h-1zM598 345h1v1h-1zM612 345h1v1h-1zM616 345h1v1h-1zM617 346h1v1h-1zM595 347h1v1h-1zM588 348h1v2h-1zM592 349h2v1h-2zM614 349h1v1h-1zM621 349h1v1h-1zM601 350h1v2h-1zM603 350h1v1h-1zM611 350h1v1h-1zM623 350h1v1h-1zM595 351h1v1h-1zM596 352h1v1h-1zM609 351h1v2h-1zM597 352h1v1h-1zM621 352h1v1h-1zM591 353h1v1h-1zM611 353h1v1h-1zM623 353h1v1h-1zM600 354h1v1h-1zM614 354h1v1h-1zM603 355h1v1h-1zM589 356h1v1h-1zM594 356h1v1h-1zM601 356h1v1h-1zM604 356h1v1h-1zM606 357h1v1h-1zM620 357h1v1h-1zM617 358h1v1h-1zM590 359h1v1h-1zM612 359h1v2h-1zM590 360h1v2h-1zM597 360h2v1h-2zM601 361h1v1h-1zM605 361h1v1h-1zM619 361h2v1h-2zM610 362h1v1h-1zM609 363h1v1h-1zM600 364h2v1h-2zM605 364h1v1h-1zM617 364h1v1h-1zM619 364h1v1h-1zM623 364h1v2h-1zM588 365h2v1h-2zM606 365h1v1h-1zM611 365h2v1h-2zM597 367h1v1h-1zM597 368h1v1h-1zM599 368h1v1h-1zM606 368h1v1h-1zM591 369h1v1h-1zM592 370h1v1h-1zM611 369h1v1h-1zM588 370h1v1h-1zM617 370h2v1h-2zM604 371h1v1h-1zM621 371h1v1h-1zM601 372h1v1h-1zM606 372h1v1h-1zM610 372h1v1h-1zM621 373h1v1h-1zM595 374h2v1h-2zM617 374h1v1h-1zM588 375h1v1h-1zM593 375h2v1h-2zM602 375h1v1h-1zM597 376h2v1h-2zM610 376h2v1h-2zM615 377h2v1h-2zM619 377h1v1h-1zM620 378h1v1h-1zM600 378h1v1h-1zM604 378h1v1h-1zM590 379h1v1h-1zM597 380h1v1h-1zM609 380h1v1h-1zM617 380h2v1h-2zM622 380h1v1h-1zM601 381h1v2h-1zM618 381h1v1h-1zM619 382h1v1h-1zM588 383h1v1h-1zM603 383h1v1h-1zM611 383h1v1h-1zM605 384h1v1h-1zM599 385h1v1h-1zM607 385h1v1h-1zM621 385h1v1h-1zM616 386h1v1h-1zM617 387h1v1h-1zM591 387h1v1h-1zM595 387h2v1h-2zM623 387h1v1h-1zM588 388h1v1h-1zM600 388h1v1h-1zM605 388h1v1h-1zM606 389h1v1h-1zM618 388h1v1h-1zM609 390h1v1h-1zM591 391h1v1h-1zM597 391h1v1h-1zM612 391h1v1h-1zM616 391h1v1h-1zM623 391h1v1h-1zM593 393h1v2h-1zM622 393h1v1h-1zM597 394h1v1h-1zM598 394h1v1h-1zM617 394h1v1h-1zM621 394h1v1h-1zM609 395h1v1h-1zM611 395h1v1h-1zM597 396h2v1h-2zM616 396h1v2h-1zM623 396h1v1h-1zM607 397h1v1h-1zM610 397h1v1h-1zM618 397h1v1h-1zM593 398h1v1h-1zM602 398h1v1h-1zM598 399h1v1h-1zM592 400h2v1h-2zM599 400h2v1h-2zM615 400h1v2h-1zM588 401h1v1h-1zM594 401h1v1h-1zM604 401h1v1h-1zM610 401h1v1h-1zM623 401h1v2h-1zM607 402h2v1h-2zM620 403h1v1h-1zM593 404h2v1h-2zM601 404h1v1h-1zM612 405h1v1h-1zM622 405h1v1h-1zM595 406h1v1h-1zM607 406h1v1h-1zM621 406h2v1h-2zM599 408h1v1h-1zM615 408h1v1h-1zM590 409h2v1h-2zM594 409h1v1h-1zM602 409h1v1h-1zM610 409h1v1h-1zM623 409h1v1h-1zM609 410h2v1h-2zM621 411h1v1h-1zM604 412h1v1h-1zM611 413h1v1h-1zM618 413h1v1h-1zM591 414h1v1h-1zM606 414h1v1h-1zM607 415h1v1h-1zM614 415h1v1h-1zM607 416h1v2h-1zM619 416h1v1h-1zM620 417h1v1h-1zM590 417h1v1h-1zM600 417h1v2h-1zM617 417h2v1h-2zM595 418h1v1h-1zM605 419h2v1h-2zM601 420h1v1h-1zM615 420h1v1h-1zM622 420h1v1h-1zM602 421h1v2h-1zM593 422h1v1h-1zM606 422h2v1h-2zM589 423h1v1h-1zM594 423h1v1h-1zM613 423h1v2h-1zM621 423h2v1h-2zM602 424h1v1h-1zM621 424h1v1h-1zM593 425h1v1h-1zM596 425h1v1h-1zM616 425h1v1h-1zM608 426h1v1h-1zM589 427h1v1h-1zM601 427h1v1h-1zM591 428h2v1h-2zM619 428h2v1h-2zM605 429h1v1h-1zM606 430h1v1h-1zM613 429h1v1h-1zM617 429h1v1h-1zM606 430h1v1h-1zM595 431h1v2h-1zM601 431h1v1h-1zM593 432h1v2h-1zM609 432h1v1h-1zM610 433h1v1h-1zM612 432h1v1h-1zM620 432h1v1h-1zM621 433h1v1h-1zM622 432h2v1h-2zM595 433h1v1h-1zM589 434h2v1h-2zM616 434h1v1h-1zM599 435h2v1h-2zM593 436h1v1h-1zM597 436h1v1h-1zM619 436h1v1h-1zM622 436h1v2h-1zM601 437h1v1h-1zM604 437h1v1h-1zM605 438h1v1h-1zM615 437h1v1h-1zM606 438h1v1h-1zM610 438h1v1h-1zM589 439h1v1h-1zM602 441h1v1h-1zM611 441h1v2h-1zM591 442h2v1h-2zM596 443h2v1h-2zM606 443h1v1h-1zM616 443h2v1h-2zM621 443h1v1h-1zM590 444h1v1h-1zM600 444h1v1h-1zM605 445h1v1h-1zM608 445h1v1h-1zM595 446h1v1h-1zM596 447h1v1h-1zM614 446h1v1h-1zM615 447h1v1h-1zM610 447h1v1h-1zM619 447h1v1h-1zM620 448h1v1h-1zM590 448h1v1h-1zM609 448h2v1h-2zM620 448h1v1h-1zM601 449h1v1h-1zM588 450h1v1h-1zM604 450h1v1h-1zM595 451h1v1h-1zM614 451h1v1h-1zM605 452h1v1h-1zM595 453h1v1h-1zM607 453h1v1h-1zM620 453h2v1h-2zM599 454h1v1h-1zM591 455h1v1h-1zM612 455h1v1h-1zM608 456h1v1h-1zM620 456h1v1h-1zM623 456h1v1h-1zM592 457h1v1h-1zM593 458h1v1h-1zM617 457h1v1h-1zM596 458h1v2h-1zM601 458h1v1h-1zM603 458h1v1h-1zM610 458h2v1h-2zM589 459h1v2h-1zM588 460h2v1h-2zM594 460h1v1h-1zM606 460h1v2h-1zM623 460h1v1h-1zM604 461h1v1h-1zM612 461h2v1h-2zM615 461h2v1h-2zM598 462h1v1h-1zM593 463h1v1h-1zM620 463h1v1h-1zM593 464h1v1h-1zM594 464h1v1h-1zM600 464h1v1h-1zM604 464h1v1h-1zM623 464h1v1h-1zM611 465h1v1h-1zM620 465h1v2h-1zM617 466h1v1h-1zM589 467h1v1h-1zM596 468h1v1h-1zM604 468h1v1h-1zM588 469h1v2h-1zM591 469h1v1h-1zM619 470h1v1h-1zM598 471h2v1h-2zM612 471h1v1h-1zM623 471h1v1h-1zM600 472h1v2h-1zM619 472h2v1h-2zM622 473h1v1h-1zM592 474h2v1h-2zM597 474h1v1h-1zM607 475h1v1h-1zM611 475h2v1h-2zM615 475h1v1h-1zM623 477h1v1h-1zM596 478h1v1h-1zM599 478h1v2h-1zM617 478h1v1h-1zM620 478h1v1h-1zM605 479h1v1h-1zM608 479h1v1h-1zM613 479h1v1h-1zM608 480h1v1h-1zM612 480h1v1h-1zM620 481h1v1h-1zM598 482h2v1h-2zM602 482h2v1h-2zM597 483h1v1h-1zM617 483h1v1h-1zM592 485h1v1h-1zM593 486h1v1h-1zM595 485h1v1h-1zM599 485h2v1h-2zM609 485h1v1h-1zM617 485h1v1h-1zM613 486h1v2h-1zM603 487h1v1h-1zM591 488h1v1h-1zM597 488h1v1h-1zM602 489h2v1h-2zM616 489h1v1h-1zM598 490h1v1h-1zM606 490h1v1h-1zM610 490h2v1h-2zM619 490h1v1h-1zM593 493h1v1h-1zM599 493h2v1h-2zM605 493h1v1h-1zM616 494h1v1h-1zM618 494h1v1h-1zM606 495h1v1h-1zM610 495h2v1h-2zM595 496h1v1h-1zM621 496h1v2h-1zM592 497h1v1h-1zM616 497h2v1h-2zM599 499h1v1h-1z" fill="#000" shape-rendering="crispEdges"/>
<rect x="276.5" y="62.5" width="54" height="20" fill="#fff" stroke="#6a6a6a" stroke-width="1"/><path d="M277.0 65.5L280.6 62.5M277.0 65.5L293.5 82.0M277.0 76.3L283.1 70.5M277.0 76.3L283.0 82.0M286.0 62.5L293.9 70.0M288.9 76.0L300.5 65.0M294.0 82.0L300.5 76.0M288.4 65.0L291.0 62.5M306.5 62.7L315.6 70.7M306.5 73.0L315.6 82.0M310.6 75.7L321.4 64.9M315.6 82.0L326.4 70.7M321.4 64.9L330.5 73.5M321.4 76.0L327.0 82.0M321.4 64.9L323.5 62.5" stroke="#000" stroke-width="1.25" fill="none"/><rect x="431.5" y="62.5" width="53" height="20" fill="#fff" stroke="#6a6a6a" stroke-width="1"/><path d="M432.0 65.5L435.6 62.5M432.0 65.5L448.5 82.0M432.0 76.3L438.1 70.5M432.0 76.3L438.0 82.0M441.0 62.5L448.9 70.0M443.9 76.0L455.5 65.0M449.0 82.0L455.5 76.0M443.4 65.0L446.0 62.5M461.5 62.7L467.9 70.5M461.5 75.7L467.9 82.0M463.2 74.9L474.3 64.2M467.9 82.0L478.1 71.8M473.7 64.5L484.5 75.3M473.7 76.3L479.0 82.0M481.7 62.4L484.5 65.0" stroke="#000" stroke-width="1.25" fill="none"/>
<rect x="295.5" y="54.5" width="15" height="7" fill="#fff" stroke="#555" stroke-width="1"/><path d="M295.5 61.5H310.5" stroke="#111" stroke-width="1"/><rect x="301.0" y="62" width="5" height="62" fill="#fff"/><path d="M300.5 54.5V131.5M306.5 54.5V131.5M300.5 131.5H306.5" stroke="#000" stroke-width="1.15" fill="none"/><path d="M297.5 124.5V128.5H308.5V124.5Z" fill="none" stroke="#6a6a6a" stroke-width="1"/><rect x="450.5" y="54.5" width="15" height="7" fill="#fff" stroke="#555" stroke-width="1"/><path d="M450.5 61.5H465.5" stroke="#111" stroke-width="1"/><rect x="456.0" y="62" width="4" height="62" fill="#fff"/><path d="M455.5 54.5V131.5M460.5 54.5V131.5M455.5 131.5H460.5" stroke="#000" stroke-width="1.15" fill="none"/><path d="M452.5 124.5V128.5H463.5V124.5Z" fill="none" stroke="#6a6a6a" stroke-width="1"/>

<path d="M320.5 119.5V273.5H439.5V119.5M320.5 123.5H439.5M320.5 262.5H439.5" fill="none" stroke="#6a6a6a" stroke-width="1"/>
<path d="M377.5 273.5V278.5H383.5V273.5" fill="none" stroke="#111" stroke-width="1"/>
<path d="M290.5 119.5V124.5H315.5V134.5H320.5" fill="none" stroke="#6a6a6a" stroke-width="1"/>
<path d="M315.5 124.5V134.5" fill="none" stroke="#111" stroke-width="1"/>
<path d="M470.5 119.5V123.5H445.5M445.5 119.5V134.5H439.5" fill="none" stroke="#6a6a6a" stroke-width="1"/>
<path d="M321 150.5L299.5 162.5V234.5L321 246.5" fill="none" stroke="#111" stroke-width="1.1"/>
<ellipse cx="314" cy="184.5" rx="4.3" ry="14.2" fill="none" stroke="#111" stroke-width="1"/>
<ellipse cx="314.5" cy="213" rx="4.2" ry="14.4" fill="none" stroke="#111" stroke-width="1"/>
<path d="M314 198.5H335" stroke="#111" stroke-width="1"/>


<path d="M203.5 40.5H237.5L276.5 72.5" fill="none" stroke="#111" stroke-width="1"/>
<path d="M344 32.5H378.5M344 32.5L310.7 59.6" fill="none" stroke="#111" stroke-width="1"/>
<path d="M216.5 330.5H290.5L351.7 242.9" fill="none" stroke="#111" stroke-width="1"/>

<path d="M206 179.5H250.5" stroke="#6a6a6a" stroke-width="1.1"/><path d="M202 179.5L207.5 177.6V181.4Z" fill="#222"/><path d="M206 199.5H250.5" stroke="#6a6a6a" stroke-width="1.1"/><path d="M202 199.5L207.5 197.6V201.4Z" fill="#222"/><path d="M206 219.5H250.5" stroke="#6a6a6a" stroke-width="1.1"/><path d="M202 219.5L207.5 217.6V221.4Z" fill="#222"/>

<path d="M439.5 314V326" fill="none" stroke="#444" stroke-width="1"/><path d="M440 323.5H587.5" fill="none" stroke="#111" stroke-width="1.2"/>
<text transform="translate(506.5,317.4) scale(0.63,1)" font-family="Liberation Serif" font-size="40" fill="#111">L</text>

<text transform="translate(179.6,37.2) scale(0.875,1)" font-family="Liberation Sans" font-size="19" fill="#333">固定木块</text><text transform="translate(346.9,29.0) scale(0.875,1)" font-family="Liberation Sans" font-size="19" fill="#333">固定螺栓</text><text transform="translate(227.0,323.8) scale(0.935,1)" font-family="Liberation Sans" font-size="18" fill="#333">冷风机</text><text transform="translate(256.0,205.9) scale(0.925,1)" font-family="Liberation Sans" font-size="17.5" fill="#333">出风</text>
<text x="45.6" y="428.0" font-family="Liberation Sans" font-size="18.5" fill="#333">冷</text><text x="65.3" y="428.0" font-family="Liberation Sans" font-size="18.5" fill="#333">风</text><text x="85.0" y="428.0" font-family="Liberation Sans" font-size="18.5" fill="#333">机</text><text x="104.7" y="428.0" font-family="Liberation Sans" font-size="18.5" fill="#333">距</text><text x="124.4" y="428.0" font-family="Liberation Sans" font-size="18.5" fill="#333">背</text><text x="144.1" y="428.0" font-family="Liberation Sans" font-size="18.5" fill="#333">墙</text><text x="163.8" y="428.0" font-family="Liberation Sans" font-size="18.5" fill="#333">的</text><text x="183.5" y="428.0" font-family="Liberation Sans" font-size="18.5" fill="#333">距</text><text x="203.2" y="428.0" font-family="Liberation Sans" font-size="18.5" fill="#333">离</text><text transform="translate(223.4,429.4) scale(0.85,1)" font-family="Liberation Sans" font-size="19.5" fill="#222">L</text><text x="232.7" y="428.0" font-family="Liberation Sans" font-size="18.5" fill="#333">应</text><text x="252.4" y="428.0" font-family="Liberation Sans" font-size="18.5" fill="#333">为</text><text x="272.1" y="428.8" font-family="Liberation Serif" font-size="19.7" fill="#111" stroke="#111" stroke-width="0.3">3</text><text x="282.0" y="428.8" font-family="Liberation Serif" font-size="19.7" fill="#111" stroke="#111" stroke-width="0.3">0</text><text x="291.8" y="428.8" font-family="Liberation Serif" font-size="19.7" fill="#111" stroke="#111" stroke-width="0.3">0</text><text transform="translate(301.9,428.8) scale(0.6,1)" font-family="Liberation Serif" font-weight="bold" font-size="19.7" fill="#111">m</text><text transform="translate(311.8,428.8) scale(0.6,1)" font-family="Liberation Serif" font-weight="bold" font-size="19.7" fill="#111">m</text><text x="321.4" y="428.0" font-family="Liberation Sans" font-size="18.5" fill="#333">至</text><text x="341.1" y="428.8" font-family="Liberation Serif" font-size="19.7" fill="#111" stroke="#111" stroke-width="0.3">5</text><text x="351.0" y="428.8" font-family="Liberation Serif" font-size="19.7" fill="#111" stroke="#111" stroke-width="0.3">0</text><text x="360.8" y="428.8" font-family="Liberation Serif" font-size="19.7" fill="#111" stroke="#111" stroke-width="0.3">0</text><text transform="translate(370.9,428.8) scale(0.6,1)" font-family="Liberation Serif" font-weight="bold" font-size="19.7" fill="#111">m</text><text transform="translate(380.7,428.8) scale(0.6,1)" font-family="Liberation Serif" font-weight="bold" font-size="19.7" fill="#111">m</text><text x="390.4" y="428.0" font-family="Liberation Sans" font-size="18.5" fill="#333">之</text><text x="410.1" y="428.0" font-family="Liberation Sans" font-size="18.5" fill="#333">间</text><text x="431.8" y="428.0" font-family="Liberation Sans" font-size="18" fill="#222">,</text><text x="439.6" y="428.0" font-family="Liberation Sans" font-size="18.5" fill="#333">或</text><text x="459.3" y="428.0" font-family="Liberation Sans" font-size="18.5" fill="#333">按</text><text x="479.0" y="428.0" font-family="Liberation Sans" font-size="18.5" fill="#333">照</text><text x="45.6" y="459.0" font-family="Liberation Sans" font-size="18.5" fill="#333">冷</text><text x="65.3" y="459.0" font-family="Liberation Sans" font-size="18.5" fill="#333">风</text><text x="85.0" y="459.0" font-family="Liberation Sans" font-size="18.5" fill="#333">机</text><text x="104.7" y="459.0" font-family="Liberation Sans" font-size="18.5" fill="#333">厂</text><text x="124.4" y="459.0" font-family="Liberation Sans" font-size="18.5" fill="#333">家</text><text x="144.1" y="459.0" font-family="Liberation Sans" font-size="18.5" fill="#333">提</text><text x="163.8" y="459.0" font-family="Liberation Sans" font-size="18.5" fill="#333">供</text><text x="183.5" y="459.0" font-family="Liberation Sans" font-size="18.5" fill="#333">的</text><text x="203.2" y="459.0" font-family="Liberation Sans" font-size="18.5" fill="#333">安</text><text x="222.9" y="459.0" font-family="Liberation Sans" font-size="18.5" fill="#333">装</text><text x="242.6" y="459.0" font-family="Liberation Sans" font-size="18.5" fill="#333">尺</text><text x="262.3" y="459.0" font-family="Liberation Sans" font-size="18.5" fill="#333">寸</text><text x="284.0" y="459.0" font-family="Liberation Sans" font-size="18" fill="#222">.</text>
</svg>
</body></html>
